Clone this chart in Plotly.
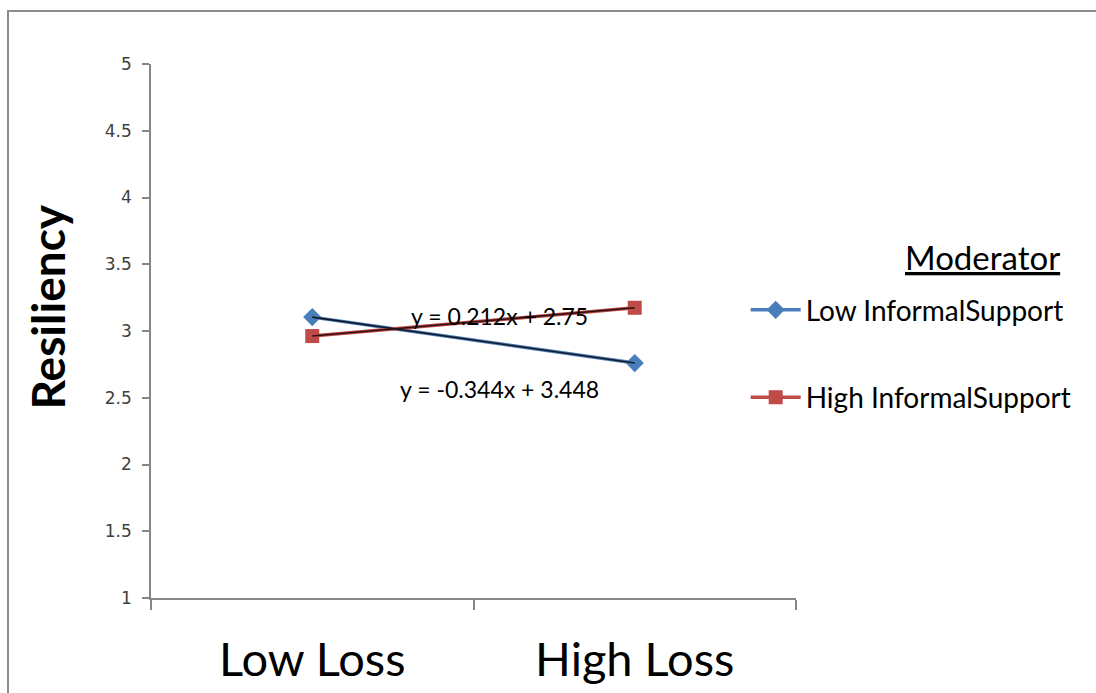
import plotly.graph_objects as go

# Moderation plot: resiliency by loss level for low / high informal support
categories = ["Low Loss", "High Loss"]
low_support = [3.104, 2.760]    # y = -0.344x + 3.448
high_support = [2.962, 3.174]   # y = 0.212x + 2.75
series_names = ["Low InformalSupport", "High InformalSupport"]
equations = ["y = 0.212x + 2.75", "y = -0.344x + 3.448"]
y_ticks = [1, 1.5, 2, 2.5, 3, 3.5, 4, 4.5, 5]

BLUE = "#4A7EBB"
RED = "#BE4B48"
AXIS = "#868686"
TEXT_FONT = "Lato"

fig = go.Figure()

# data series
fig.add_trace(go.Scatter(
    x=categories, y=low_support, name=series_names[0], mode="lines+markers",
    line=dict(color=BLUE, width=3.5),
    marker=dict(symbol="diamond", size=14, color=BLUE),
    legendgroup="low",
))
fig.add_trace(go.Scatter(
    x=categories, y=high_support, name=series_names[1], mode="lines+markers",
    line=dict(color=RED, width=3.5),
    marker=dict(symbol="square", size=14, color=RED),
    legendgroup="high",
))

# linear trendlines (two points, so they pass through the data)
fig.add_trace(go.Scatter(
    x=categories, y=low_support, mode="lines", showlegend=False,
    line=dict(color="#141A28", width=1.6), hoverinfo="skip",
))
fig.add_trace(go.Scatter(
    x=categories, y=high_support, mode="lines", showlegend=False,
    line=dict(color="#2E1010", width=1.6), hoverinfo="skip",
))

# trendline equations
fig.add_annotation(x=0.541, xref="paper", y=3.112, yref="y", text=equations[0],
                   showarrow=False, font=dict(family=TEXT_FONT, size=23, color="#000000"))
fig.add_annotation(x=0.541, xref="paper", y=2.566, yref="y", text=equations[1],
                   showarrow=False, font=dict(family=TEXT_FONT, size=23, color="#000000"))

# y-axis title
fig.add_annotation(x=-0.2062, xref="paper", y=0.545, yref="paper", text="<b>Resiliency</b>",
                   textangle=-90, showarrow=False,
                   font=dict(family=TEXT_FONT, size=46, color="#000000"))

# legend heading
fig.add_annotation(x=1.413, xref="paper", xanchor="right", y=0.639, yref="paper",
                   yanchor="middle", text="<u>Moderator</u>", showarrow=False,
                   font=dict(family=TEXT_FONT, size=33, color="#000000"))

# chart border
fig.add_shape(type="rect", xref="paper", yref="paper",
              x0=-0.2217, x1=1.48, y0=-0.25, y1=1.0993,
              line=dict(color="#8C8C8C", width=2), fillcolor="rgba(0,0,0,0)", layer="below")

fig.update_layout(
    width=1096, height=693,
    margin=dict(l=151, r=300, t=64, b=95, autoexpand=False),
    paper_bgcolor="white", plot_bgcolor="white",
    showlegend=True,
    legend=dict(
        x=0.922, xanchor="left", y=0.586, yanchor="top",
        font=dict(family=TEXT_FONT, size=28, color="#000000"),
        tracegroupgap=48, itemwidth=50,
        bgcolor="rgba(0,0,0,0)",
    ),
    xaxis=dict(
        type="category", categoryorder="array", categoryarray=categories,
        range=[-0.5, 1.5], showline=True, linecolor=AXIS, linewidth=1.5,
        ticks="outside", tickson="boundaries", ticklen=10, tickcolor=AXIS, tickwidth=1.5,
        tickfont=dict(family=TEXT_FONT, size=47, color="#000000"),
        ticklabelstandoff=20, showgrid=False, zeroline=False, automargin=False,
    ),
    yaxis=dict(
        range=[1, 5], tickvals=y_ticks, ticktext=[f"{v:g}" for v in y_ticks],
        showline=True, linecolor=AXIS, linewidth=1.5,
        ticks="outside", ticklen=7, tickcolor=AXIS, tickwidth=1.5,
        tickfont=dict(family="DejaVu Sans", size=17, color="#404040"),
        ticklabelstandoff=7, showgrid=False, zeroline=False, automargin=False,
    ),
)

fig.write_html("out.html")
